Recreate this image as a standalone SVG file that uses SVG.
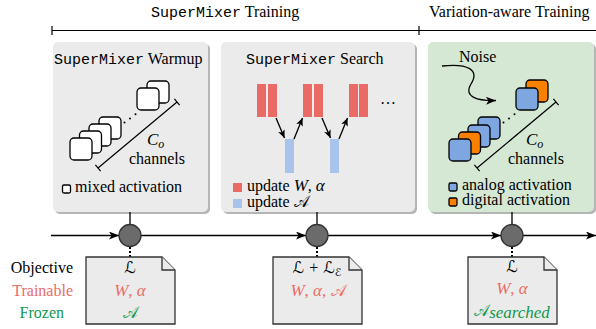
<svg xmlns="http://www.w3.org/2000/svg" width="596" height="329" viewBox="0 0 596 329">
<style>
.serif{font-size:16px;fill:#000}
.mono{font-size:15px;fill:#000}
.math{font-style:italic;font-size:17px}
.cal{font-style:normal;font-size:16px}
.red{fill:#ea6b66}
.green{fill:#10994d}
.panel{fill:#ebebeb}
.shadow{fill:#b5b5b5}
.sq{stroke:#000;stroke-width:1.3}
.w{fill:#fff}
.b{fill:#7ea6e0}
.o{fill:#fa8000}
.dim{stroke:#000;stroke-width:1.2;fill:none}
.doc{fill:#ebebeb;stroke:#333;stroke-width:1.3}
.node{fill:#6b6b6b;stroke:#333;stroke-width:1.3}
.conn{stroke:#000;stroke-width:1.3;fill:none}
.redbar{fill:#ea6b66}
.bluebar{fill:#a9c4eb}
</style>
<defs>
<marker id="arr" markerUnits="userSpaceOnUse" viewBox="0 0 10 8" refX="10" refY="4" markerWidth="10" markerHeight="8" orient="auto">
<path d="M0,0 L10,4 L0,8 L2.5,4 z" fill="#000"/>
</marker>
<marker id="sarr" markerUnits="userSpaceOnUse" viewBox="0 0 8 7" refX="8" refY="3.5" markerWidth="8" markerHeight="7" orient="auto">
<path d="M0,0 L8,3.5 L0,7 L2,3.5 z" fill="#000"/>
</marker>
</defs>

<g id="header">
<text x="151" y="17" class="mono" font-family="Liberation Mono">SuperMixer<tspan class="serif" font-family="Liberation Serif"> Training</tspan></text>
<text x="429" y="17" class="serif" font-family="Liberation Serif">Variation-aware Training</text>
<path d="M52,30.5 H596 M52,26 V35 M419,26 V35" stroke="#000" stroke-width="1.2" fill="none"/>
</g>

<g id="panel-warmup">
<rect x="55" y="44" width="155" height="170" rx="5" class="shadow"/>
<rect x="53" y="42" width="155" height="170" rx="5" class="panel"/>
<text x="54" y="64" class="mono" font-family="Liberation Mono">SuperMixer<tspan class="serif" font-family="Liberation Serif"> Warmup</tspan></text>
<rect x="147" y="81" width="22" height="22" rx="4" class="sq w"/>
<rect x="137" y="88" width="22" height="22" rx="4" class="sq w"/>
<rect x="99" y="117" width="22" height="22" rx="4" class="sq w"/>
<rect x="89" y="124" width="22" height="22" rx="4" class="sq w"/>
<rect x="79.5" y="131" width="22" height="22" rx="4" class="sq w"/>
<rect x="70" y="138" width="22" height="22" rx="4" class="sq w"/>
<circle cx="124.5" cy="122.5" r="1" fill="#000"/>
<circle cx="130" cy="118.5" r="1" fill="#000"/>
<circle cx="135.5" cy="114.3" r="1" fill="#000"/>
<path d="M98,168 L177,102 M95.4,164.9 L100.6,171.1 M174.4,98.9 L179.6,105.1" class="dim"/>
<text x="147" y="145" class="math" font-family="Liberation Serif">C<tspan font-size="12" dy="3">o</tspan></text>
<text x="157" y="164" class="serif" text-anchor="middle" font-family="Liberation Serif">channels</text>
<rect x="62.5" y="185" width="8" height="8" rx="1.5" class="sq w"/>
<text x="75" y="192" class="serif" font-family="Liberation Serif">mixed activation</text>
</g>

<g id="panel-search">
<rect x="223" y="44" width="194" height="170" rx="5" class="shadow"/>
<rect x="221" y="42" width="194" height="170" rx="5" class="panel"/>
<text x="246" y="64" class="mono" font-family="Liberation Mono">SuperMixer<tspan class="serif" font-family="Liberation Serif"> Search</tspan></text>
<rect x="257" y="84" width="9" height="33" class="redbar"/>
<rect x="268" y="84" width="9" height="33" class="redbar"/>
<rect x="303" y="84" width="9" height="33" class="redbar"/>
<rect x="314" y="84" width="9" height="33" class="redbar"/>
<rect x="349" y="84" width="9" height="33" class="redbar"/>
<rect x="359" y="84" width="9" height="33" class="redbar"/>
<rect x="285" y="139" width="9" height="34" class="bluebar"/>
<rect x="330" y="139" width="9" height="34" class="bluebar"/>
<path d="M276,118 L284.5,138" class="conn" marker-end="url(#sarr)"/>
<path d="M294,139 L302.5,118" class="conn" marker-end="url(#sarr)"/>
<path d="M322,118 L330.5,138" class="conn" marker-end="url(#sarr)"/>
<path d="M339,139 L347.5,118" class="conn" marker-end="url(#sarr)"/>
<text x="388" y="104" class="serif" text-anchor="middle" font-family="Liberation Serif">…</text>
<rect x="233" y="183" width="9" height="9" class="redbar"/>
<text x="247" y="191" class="serif" font-family="Liberation Serif">update <tspan class="math">W</tspan>, <tspan class="math">α</tspan></text>
<rect x="233" y="199" width="9" height="9" class="bluebar"/>
<text x="247" y="207" class="serif" font-family="Liberation Serif">update <tspan class="cal">𝒜</tspan></text>
</g>

<g id="panel-variation">
<rect x="430" y="44" width="166" height="170" rx="5" class="shadow"/>
<rect x="428" y="42" width="166" height="170" rx="5" fill="#d5e8d4"/>
<text x="459" y="62" class="serif" font-family="Liberation Serif">Noise</text>
<path d="M442,66 C468,63 480,70 471,84 C463,97 478,101 496,100.5" class="conn" marker-end="url(#arr)"/>
<rect x="526" y="80" width="22" height="22" rx="4" class="sq o"/>
<rect x="516" y="88" width="22" height="22" rx="4" class="sq b"/>
<rect x="478" y="117" width="22" height="22" rx="4" class="sq b"/>
<rect x="468" y="125" width="22" height="22" rx="4" class="sq b"/>
<rect x="458.5" y="132" width="22" height="22" rx="4" class="sq o"/>
<rect x="449" y="139" width="22" height="22" rx="4" class="sq b"/>
<circle cx="503.5" cy="122.5" r="1" fill="#000"/>
<circle cx="509" cy="118.5" r="1" fill="#000"/>
<circle cx="514.5" cy="114.3" r="1" fill="#000"/>
<path d="M477,168 L556,102 M474.4,164.9 L479.6,171.1 M553.4,98.9 L558.6,105.1" class="dim"/>
<text x="526" y="145" class="math" font-family="Liberation Serif">C<tspan font-size="12" dy="3">o</tspan></text>
<text x="536" y="164" class="serif" text-anchor="middle" font-family="Liberation Serif">channels</text>
<rect x="449" y="183" width="8" height="8" rx="1.5" class="sq b"/>
<text x="462" y="190" class="serif" font-family="Liberation Serif">analog activation</text>
<rect x="449" y="198" width="8" height="8" rx="1.5" class="sq o"/>
<text x="462" y="205" class="serif" font-family="Liberation Serif">digital activation</text>
</g>

<g id="connectors">
<path d="M51,235.5 H119" class="conn" marker-end="url(#arr)"/>
<path d="M141,235.5 H306" class="conn" marker-end="url(#arr)"/>
<path d="M328,235.5 H501" class="conn" marker-end="url(#arr)"/>
<path d="M523,235.5 H596" class="conn" marker-end="url(#arr)"/>
<path d="M130,212 V224.5 M317,212 V224.5 M512,212 V224.5" class="conn"/>
<path d="M130,247 V257 M317,247 V257 M512,247 V257" stroke="#000" stroke-width="2" stroke-dasharray="2,2" fill="none"/>
</g>

<g id="node1"><circle cx="130" cy="235.5" r="11" class="node"/></g>
<g id="node2"><circle cx="317" cy="235.5" r="11" class="node"/></g>
<g id="node3"><circle cx="512" cy="235.5" r="11" class="node"/></g>

<g id="labels">
<text x="73" y="273" class="serif" text-anchor="end" font-family="Liberation Serif">Objective</text>
<text x="73" y="296" class="serif red" text-anchor="end" font-family="Liberation Serif">Trainable</text>
<text x="64" y="318" class="serif green" text-anchor="end" font-family="Liberation Serif">Frozen</text>
</g>

<g id="doc1">
<path d="M86,257 H162 L175,270 V324 H86 Z" class="doc"/>
<path d="M162,257 V270 H175" class="doc"/>
<text x="130" y="273" class="cal" text-anchor="middle" font-family="DejaVu Sans">ℒ</text>
<text x="130" y="296" class="math red" text-anchor="middle" font-family="Liberation Serif">W<tspan font-style="normal">, </tspan>α</text>
<text x="130" y="318" class="cal green" text-anchor="middle" font-family="Liberation Serif">𝒜</text>
</g>

<g id="doc2">
<path d="M273,257 H349 L362,270 V324 H273 Z" class="doc"/>
<path d="M349,257 V270 H362" class="doc"/>
<text x="317" y="273" class="cal" text-anchor="middle" font-family="DejaVu Sans">ℒ <tspan font-family="Liberation Serif">+</tspan> ℒ<tspan font-size="11" dy="3">ℰ</tspan></text>
<text x="318" y="296" class="math red" text-anchor="middle" font-family="Liberation Serif">W<tspan font-style="normal">, </tspan>α<tspan font-style="normal">, </tspan><tspan class="cal">𝒜</tspan></text>
</g>

<g id="doc3">
<path d="M468,257 H544 L557,270 V324 H468 Z" class="doc"/>
<path d="M544,257 V270 H557" class="doc"/>
<text x="512" y="272" class="cal" text-anchor="middle" font-family="DejaVu Sans">ℒ</text>
<text x="512" y="294" class="math red" text-anchor="middle" font-family="Liberation Serif">W<tspan font-style="normal">, </tspan>α</text>
<text x="512" y="316" class="green" text-anchor="middle" font-family="Liberation Serif"><tspan class="cal green">𝒜</tspan><tspan class="math green" font-size="12" dy="2">searched</tspan></text>
</g>
</svg>
